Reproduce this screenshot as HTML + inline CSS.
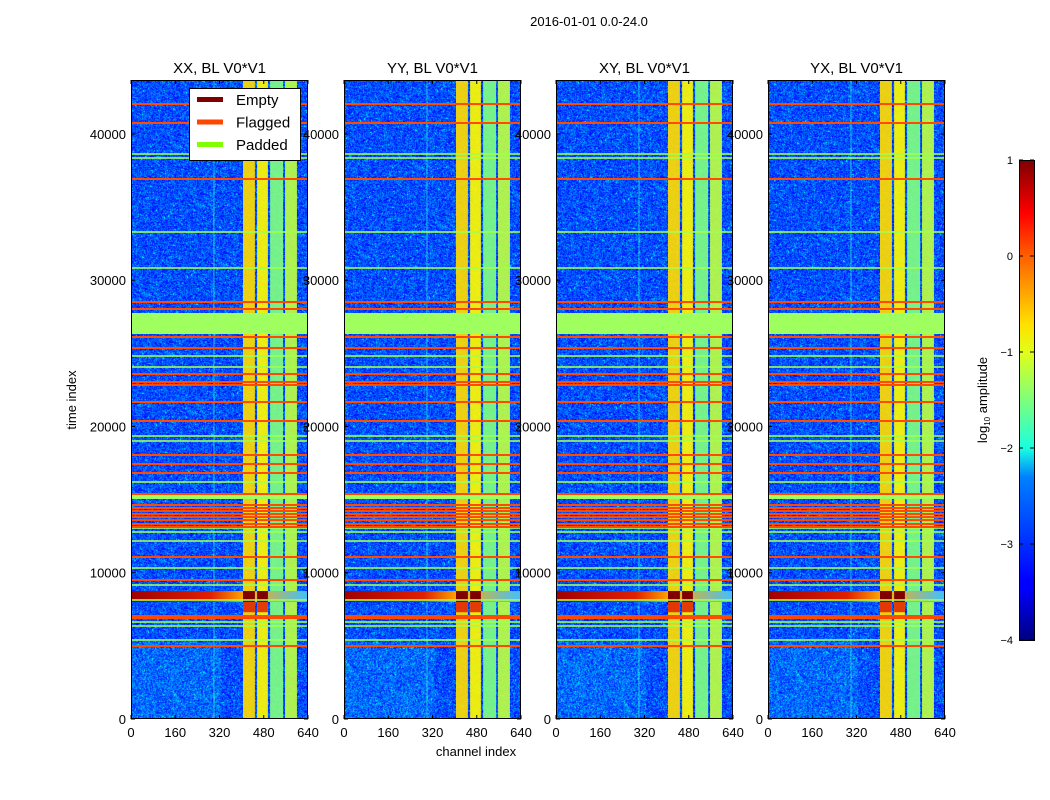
<!DOCTYPE html>
<html><head><meta charset="utf-8">
<style>
html,body{margin:0;padding:0;background:#fff;}
#wrap{position:relative;width:1050px;height:800px;overflow:hidden;font-family:"Liberation Sans",sans-serif;}
canvas{position:absolute;}
svg{position:absolute;left:0;top:0;}
</style></head>
<body>
<div id="wrap">
<canvas id="c0" width="177" height="639" style="left:131px;top:80px"></canvas>
<canvas id="c1" width="177" height="639" style="left:344px;top:80px"></canvas>
<canvas id="c2" width="177" height="639" style="left:556px;top:80px"></canvas>
<canvas id="c3" width="177" height="639" style="left:768px;top:80px"></canvas>
<svg id="s" width="1050" height="800" xmlns="http://www.w3.org/2000/svg">
<defs>
<linearGradient id="jet" x1="0" y1="1" x2="0" y2="0">
<stop offset="0" stop-color="#00007f"/><stop offset="0.11" stop-color="#0000ff"/><stop offset="0.125" stop-color="#0000ff"/>
<stop offset="0.34" stop-color="#0080ff"/><stop offset="0.4" stop-color="#19ffe0"/><stop offset="0.6" stop-color="#e0ff19"/>
<stop offset="0.66" stop-color="#ffe000"/><stop offset="0.8" stop-color="#ff6000"/><stop offset="0.89" stop-color="#ff0000"/><stop offset="1" stop-color="#7f0000"/>
</linearGradient>
<linearGradient id="streak" x1="0" y1="0" x2="1" y2="0">
<stop offset="0" stop-color="#a00000"/><stop offset="0.45" stop-color="#e02000"/><stop offset="0.65" stop-color="#ffb000"/><stop offset="1" stop-color="#40c0ff"/>
</linearGradient>
</defs>
</svg>
</div>
<script>
// ---- data ----
const panelTitles = ["XX, BL V0*V1","YY, BL V0*V1","XY, BL V0*V1","YX, BL V0*V1"];
const xTicks = [0,160,320,480,640];
const yTicks = [0,10000,20000,30000,40000];
const cbTicks = [1,0,-1,-2,-3,-4];
const bandStart = [405,456,503,557,298];
const bandEnd   = [448,495,550,600,302];
const bandLevel = [0.66,0.63,0.50,0.56,0.42];
const flaggedRows = [42050,40752,36923,28513,28034,26120,25368,23590,23043,22838,21675,20376,18051,17436,16821,15385,14632,14427,14220,14015,13806,13600,13333,13128,11077,9504,7043,6906,4991];
const paddedRows = [38632,38359,33299,30838,24820,24068,19350,19009,16205,13060,12786,12171,10325,9162,8137,6632,6359,5402];
const paddedBlockStart = [26325,15043];
const paddedBlockEnd   = [27761,15453];
const rfiStart = 8000, rfiEnd = 8750;
const emptyChanStart = [405,456], emptyChanEnd = [448,495];
const legendLabels = ["Empty","Flagged","Padded"];

// ---- geometry ----
const px0 = [131,344,556,768], pw = 177, plotTop = 80, bot = 719, tMax = 43692;
const X = (p,c)=>px0[p] + c/640*pw;
const Y = t=> bot - t/tMax*(bot-plotTop);
function jet(v){const cl=x=>Math.max(0,Math.min(1,x));return [cl(1.5-Math.abs(4*v-3)),cl(1.5-Math.abs(4*v-2)),cl(1.5-Math.abs(4*v-1))].map(x=>Math.round(x*255));}
const NS="http://www.w3.org/2000/svg", svg=document.getElementById('s');
function mk(tag,attrs,parent){const e=document.createElementNS(NS,tag);for(const k in attrs)e.setAttribute(k,attrs[k]);(parent||svg).appendChild(e);return e;}
function txt(s,attrs,parent){const e=mk('text',attrs,parent);e.textContent=s;return e;}

// noise texture
let seed=12345;function rnd(){seed=(seed*1103515245+12345)&0x7fffffff;return seed/0x7fffffff;}
for(let p=0;p<4;p++){
  const cv=document.getElementById('c'+p),ctx=cv.getContext('2d'),im=ctx.createImageData(177,639);
  for(let y=0;y<639;y++)for(let x=0;x<177;x++){
    let v=0.2+ (rnd()-0.5)*0.16;
    if(y>560 && x<90) v+= 0.05*rnd();
    if(rnd()<0.04) v+=0.12;
    const c=jet(v),i=(y*177+x)*4;im.data[i]=c[0];im.data[i+1]=c[1];im.data[i+2]=c[2];im.data[i+3]=255;}
  ctx.putImageData(im,0,0);
}

for(let p=0;p<4;p++){
  const g=mk('g',{});
  
  
  for(let i=0;i<bandStart.length;i++){
    const c=jet(bandLevel[i]);
    const r=mk('rect',{x:X(p,bandStart[i]),y:plotTop,width:X(p,bandEnd[i])-X(p,bandStart[i]),height:bot-plotTop,fill:'rgb('+c.join(',')+')',opacity:i==4?0.6:0.92},g);
    
    
  }
  const st=mk('rect',{x:px0[p],y:Y(rfiEnd),width:pw,height:Y(rfiStart)-Y(rfiEnd),fill:'url(#streak)'},g);
  
  
  for(let i=0;i<emptyChanStart.length;i++){
    const e1=mk('rect',{x:X(p,emptyChanStart[i]),y:Y(rfiEnd),width:X(p,emptyChanEnd[i])-X(p,emptyChanStart[i]),height:Y(rfiStart)-Y(rfiEnd),fill:'#800000'},g);
    
    
    const e2=mk('rect',{x:X(p,emptyChanStart[i]),y:Y(rfiStart),width:X(p,emptyChanEnd[i])-X(p,emptyChanStart[i]),height:Y(rfiStart-700)-Y(rfiStart),fill:'#e01000',opacity:0.8},g);
    
    
  }
  for(let i=0;i<paddedBlockStart.length;i++){
    const r=mk('rect',{x:px0[p],y:Y(paddedBlockEnd[i]),width:pw,height:Y(paddedBlockStart[i])-Y(paddedBlockEnd[i]),fill:'#9fff5f'},g);
    
    
  }
  for(const t of paddedRows){
    const l=mk('rect',{x:px0[p],y:Y(t)-0.8,width:pw,height:1.6,fill:'#a0ff50'},g);
    
    
  }
  for(const t of flaggedRows){
    const l=mk('rect',{x:px0[p],y:Y(t)-1,width:pw,height:2,fill:'#ff4a00'},g);
    
    
  }
  const fr=mk('rect',{x:px0[p]+0.5,y:plotTop+0.5,width:pw-1,height:bot-plotTop-1,fill:'none',stroke:'#000','stroke-width':1},g);
  
  
  const tt=txt(panelTitles[p],{x:px0[p]+pw/2,y:73,'text-anchor':'middle','font-size':15,fill:'#000'},g);
  
  
  for(const v of xTicks){
    const x=X(p,v);
    mk('line',{x1:x,x2:x,y1:bot,y2:bot-4,stroke:'#000'},g);mk('line',{x1:x,x2:x,y1:plotTop,y2:plotTop+4,stroke:'#000'},g);
    const l=txt(v,{x:x,y:737,'text-anchor':'middle','font-size':13},g);
    
    
  }
  for(const v of yTicks){
    const y=Y(v);
    mk('line',{x1:px0[p],x2:px0[p]+4,y1:y,y2:y,stroke:'#000'},g);mk('line',{x1:px0[p]+pw,x2:px0[p]+pw-4,y1:y,y2:y,stroke:'#000'},g);
    const l=txt(v,{x:px0[p]-5,y:y+5,'text-anchor':'end','font-size':13},g);
    
    
  }
}
// legend
const lg=mk('g',{});


mk('rect',{x:189.5,y:88.5,width:111,height:72,fill:'#fff',stroke:'#000'},lg);
const lgColors=['#800000','#ff4500','#7fff00'];
legendLabels.forEach((s,i)=>{
  const y=100+i*22.5;
  const sw=mk('rect',{x:197,y:y-3,width:26,height:5,fill:lgColors[i]},lg);
  
  
  const t=txt(s,{x:236,y:y+5,'font-size':15},lg);
  
  
});
// colorbar
const cb=mk('rect',{x:1019.5,y:160.5,width:15,height:480,fill:'url(#jet)',stroke:'#000'});


cbTicks.forEach(v=>{
  const y=160+(1-v)/5*480;
  mk('line',{x1:1019,x2:1023,y1:y,y2:y,stroke:'#000'});mk('line',{x1:1034,x2:1030,y1:y,y2:y,stroke:'#000'});
  const t=txt(v<0?'\u2212'+(-v):String(v),{x:1013,y:y+4,'text-anchor':'end','font-size':11});
  
  
});
</script>
<svg width="1050" height="800" style="position:absolute;left:0;top:0;pointer-events:none">
<text x="589" y="26" text-anchor="middle" font-size="13" font-family="Liberation Sans">2016-01-01 0.0-24.0</text>
<text x="476" y="756" text-anchor="middle" font-size="13" font-family="Liberation Sans">channel index</text>
<text transform="translate(76,400) rotate(-90)" text-anchor="middle" font-size="13" font-family="Liberation Sans">time index</text>
<text transform="translate(987,400) rotate(-90)" text-anchor="middle" font-size="13" font-family="Liberation Sans">log<tspan font-size="8" dy="3">10</tspan><tspan dy="-3"> amplitude</tspan></text>
</svg>
</body></html>
